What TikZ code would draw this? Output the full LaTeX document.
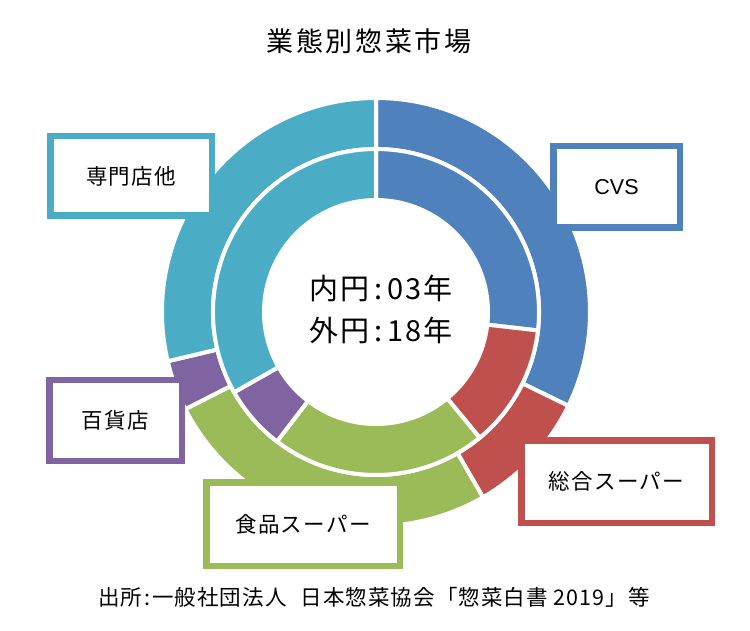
\documentclass[tikz,border=0pt]{standalone}
\usepackage{fontspec}
\setmainfont{Noto Sans CJK JP}
\newfontfamily\latinfont{Liberation Sans}
\definecolor{cvs}{HTML}{4F81BD}
\definecolor{gms}{HTML}{C0504D}
\definecolor{sm}{HTML}{9BBB59}
\definecolor{dept}{HTML}{8064A2}
\definecolor{spec}{HTML}{4BACC6}
\newcommand{\donutseg}[5]{%
  \filldraw[fill=#5, draw=white, line width=4pt, line join=miter]
    (#3:#2pt) arc[start angle=#3, end angle=#4, radius=#2pt]
    -- (#4:#1pt) arc[start angle=#4, end angle=#3, radius=#1pt] -- cycle;}
\tikzset{
  lbl/.style={draw=#1, line width=6.5pt, fill=white, rectangle, inner sep=0pt,
    font=\fontsize{21.5}{26}\selectfont\addfontfeatures{LetterSpace=6}},
  ttl/.style={font=\fontsize{27}{32}\selectfont\addfontfeatures{LetterSpace=10}},
  ctr/.style={font=\fontsize{29}{34}\selectfont\addfontfeatures{LetterSpace=6}},
  foot/.style={font=\fontsize{21.5}{26}\selectfont\addfontfeatures{LetterSpace=5}}
}
\begin{document}
\begin{tikzpicture}[x=1pt,y=1pt]
\useasboundingbox (0,0) rectangle (750,630);
\fill[white] (0,0) rectangle (750,630);
\node[ttl] (title) at (369,589) {業態別惣菜市場};
\begin{scope}[shift={(376,318)}]
  % outer ring (18年)
  \donutseg{163}{214}{90}{-26}{cvs}
  \donutseg{163}{214}{-26}{-60}{gms}
  \donutseg{163}{214}{-60}{-153}{sm}
  \donutseg{163}{214}{-153}{-166.7}{dept}
  \donutseg{163}{214}{-166.7}{-270}{spec}
  % inner ring (03年)
  \donutseg{112}{163}{90}{-6.5}{cvs}
  \donutseg{112}{163}{-6.5}{-50.5}{gms}
  \donutseg{112}{163}{-50.5}{-127.4}{sm}
  \donutseg{112}{163}{-127.4}{-150.5}{dept}
  \donutseg{112}{163}{-150.5}{-270}{spec}
\end{scope}
\node[ctr] (inner) at (381,342) {内円\hspace{5pt}:\hspace{5pt}03年};
\node[ctr] (outer) at (381,300) {外円\hspace{5pt}:\hspace{5pt}18年};
\node[lbl=spec, minimum width=161.5pt, minimum height=79.5pt] (lspec) at (131,454) {専門店他};
\node[lbl=cvs, minimum width=126.5pt, minimum height=81.5pt] (lcvs) at (616.5,443) {\latinfont CVS};
\node[lbl=dept, minimum width=132.5pt, minimum height=80.5pt] (ldept) at (115.5,209.5) {百貨店};
\node[lbl=gms, minimum width=190.5pt, minimum height=82.5pt] (lgms) at (616.5,148.5) {総合スーパー};
\node[lbl=sm, minimum width=193.5pt, minimum height=83.5pt] (lsm) at (303,106) {食品スーパー};
\node[foot] (source) at (374,32.5) {出所\hspace{2pt}:\hspace{2pt}一般社団法人\hspace{14pt}日本惣菜協会「惣菜白書 2019」等};
\end{tikzpicture}
\end{document}
